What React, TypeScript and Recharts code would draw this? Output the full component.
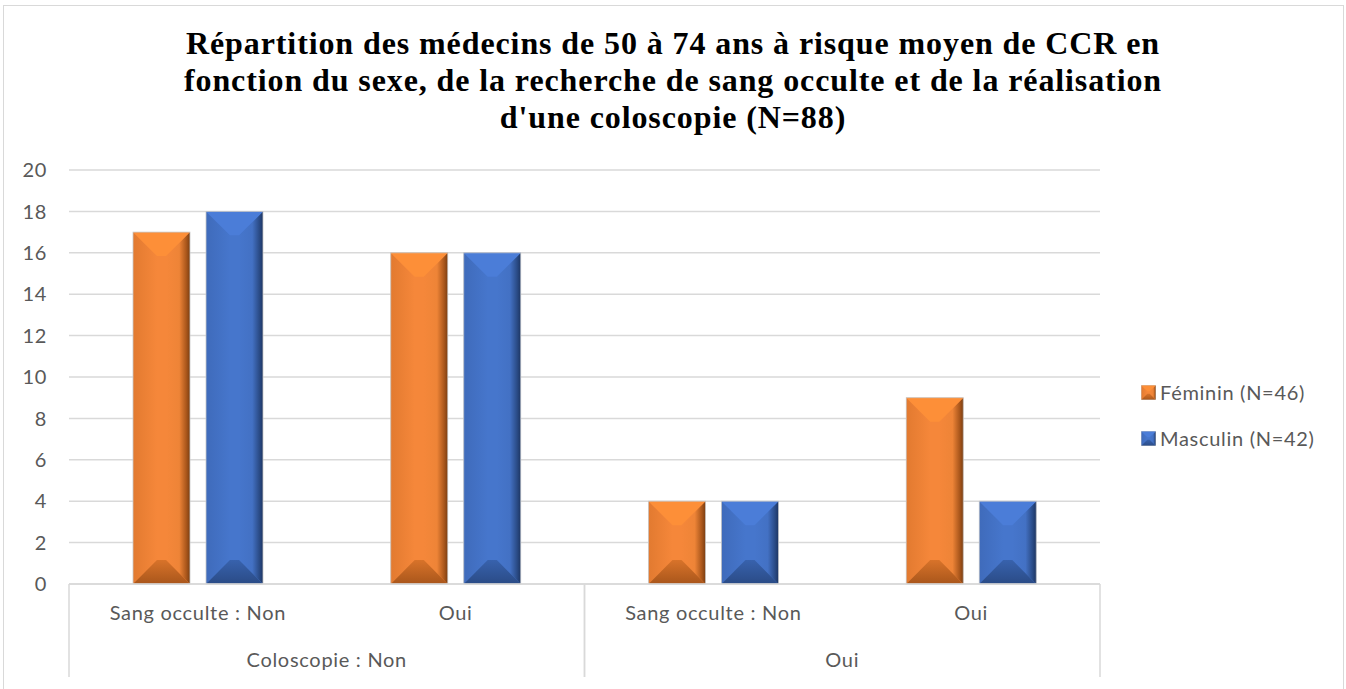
import React from 'react';
import { BarChart, Bar, XAxis, YAxis, CartesianGrid } from 'recharts';

const subCategories = ['Sang occulte : Non', 'Oui', 'Sang occulte : Non', 'Oui'];
const groupCategories = ['Coloscopie : Non', 'Coloscopie : Non', 'Oui', 'Oui'];
const femininValues = [17, 16, 4, 9];
const masculinValues = [18, 16, 4, 4];
const yTicks = [0, 2, 4, 6, 8, 10, 12, 14, 16, 18, 20];
const seriesNames = ['Féminin (N=46)', 'Masculin (N=42)'];
const titleLines = [
  'Répartition des médecins de 50 à 74 ans à risque moyen de CCR en',
  'fonction du sexe, de la recherche de sang occulte et de la réalisation',
  "d'une coloscopie (N=88)",
];

const data = subCategories.map((sub, i) => ({
  sub,
  group: groupCategories[i],
  f: femininValues[i],
  m: masculinValues[i],
}));

const W = 1346;
const H = 689;
const M_TOP = 170;
const M_RIGHT = 246;
const Y_W = 69;
const SUB_H = 52;
const GROUP_H = 53;
const SUB_MARGIN = 22;
const GROUP_MARGIN = 17;
const SEP_LEN = 93;
const TEXT = '#595959';
const GRID = '#d9d9d9';
const AXIS_FONT = 'Lato, "Noto Sans", sans-serif';
const AXIS_SIZE = 20;
const AXIS_LS = 0.7;
const SUB_AXIS_ID = 'axisA';
const GROUP_AXIS_ID = 'axisB';

type Pal = { face: string; top: string; leftEdge: string; rightMid: string; rightEdge: string; botIn: string; botOut: string };
const PALETTES: Record<string, Pal> = {
  f: {
    face: '#f5873a',
    top: '#fd8f38',
    leftEdge: '#e27a30',
    rightMid: '#ee8437',
    rightEdge: '#7a3e12',
    botIn: '#d8732a',
    botOut: '#a9561b',
  },
  m: {
    face: '#4676cc',
    top: '#4b7dd8',
    leftEdge: '#3f6bbb',
    rightMid: '#4371c4',
    rightEdge: '#1d3562',
    botIn: '#3862ad',
    botOut: '#2a4b86',
  },
};

function Bevel({ x, y, width, height, k }: { x: number; y: number; width: number; height: number; k: string }) {
  const p = PALETTES[k];
  const b = Math.min(width * 0.42, height / 2);
  const id = `g-${k}`;
  const xi1 = x + b;
  const xi2 = x + width - b;
  const yi1 = y + b;
  const yi2 = y + height - b;
  return (
    <g>
      <defs>
        <linearGradient id={`${id}-l`} x1="0" y1="0" x2="1" y2="0">
          <stop offset="0" stopColor={p.leftEdge} />
          <stop offset="1" stopColor={p.face} />
        </linearGradient>
        <linearGradient id={`${id}-r`} x1="0" y1="0" x2="1" y2="0">
          <stop offset="0" stopColor={p.face} />
          <stop offset="0.55" stopColor={p.rightMid} />
          <stop offset="0.85" stopColor={p.botOut} />
          <stop offset="1" stopColor={p.rightEdge} />
        </linearGradient>
        <linearGradient id={`${id}-b`} x1="0" y1="0" x2="0" y2="1">
          <stop offset="0" stopColor={p.botIn} />
          <stop offset="1" stopColor={p.botOut} />
        </linearGradient>
      </defs>
      <rect x={x} y={y} width={width} height={height} fill={p.face} />
      <polygon points={`${x},${y} ${xi1},${yi1} ${xi1},${yi2} ${x},${y + height}`} fill={`url(#${id}-l)`} />
      <polygon points={`${x + width},${y} ${xi2},${yi1} ${xi2},${yi2} ${x + width},${y + height}`} fill={`url(#${id}-r)`} />
      <polygon points={`${x},${y} ${x + width},${y} ${xi2},${yi1} ${xi1},${yi1}`} fill={p.top} />
      <polygon points={`${x},${y + height} ${x + width},${y + height} ${xi2},${yi2} ${xi1},${yi2}`} fill={`url(#${id}-b)`} />
      <rect x={x} y={y} width={width} height={height} fill="none" stroke="#c8c8c8" strokeWidth={0.8} />
    </g>
  );
}

const makeShape = (k: string) => (props: any) => {
  const { x, y, width, height } = props;
  if (!height || height <= 0) return <g />;
  return <Bevel x={x} y={y} width={width} height={height} k={k} />;
};

const SubTick = (props: any) => {
  const { x, y, payload, index } = props;
  const bandW = (W - Y_W - M_RIGHT) / subCategories.length;
  const half = payload && typeof payload.offset === 'number' && payload.offset > 0 ? payload.offset : bandW / 2;
  const axisY = y - SUB_MARGIN;
  const i = typeof index === 'number' ? index : payload.index;
  const g = groupCategories[i];
  const leftLine = i === 0 || groupCategories[i - 1] !== g;
  const rightLine = i === groupCategories.length - 1 || groupCategories[i + 1] !== g;
  return (
    <g>
      <text x={x} y={y} dy="0.71em" textAnchor="middle" fill={TEXT} fontSize={AXIS_SIZE} letterSpacing={AXIS_LS} fontFamily={AXIS_FONT}>
        {payload.value}
      </text>
      {leftLine && <line x1={x - half} x2={x - half} y1={axisY} y2={axisY + SEP_LEN} stroke={GRID} strokeWidth={1.5} />}
      {rightLine && <line x1={x + half} x2={x + half} y1={axisY} y2={axisY + SEP_LEN} stroke={GRID} strokeWidth={1.5} />}
    </g>
  );
};

const GroupTick = (props: any) => {
  const { x, y, payload } = props;
  return (
    <text x={x} y={y} dy="0.71em" textAnchor="middle" fill={TEXT} fontSize={AXIS_SIZE} letterSpacing={AXIS_LS} fontFamily={AXIS_FONT}>
      {payload.value}
    </text>
  );
};

const YTick = (props: any) => {
  const { x, y, payload } = props;
  return (
    <text x={x} y={y} dy="0.355em" textAnchor="end" fill={TEXT} fontSize={AXIS_SIZE} letterSpacing={AXIS_LS} fontFamily={AXIS_FONT}>
      {payload.value}
    </text>
  );
};

function LegendIcon({ k }: { k: string }) {
  return (
    <svg width={15} height={15} style={{ display: 'block' }}>
      <Bevel x={0} y={0} width={15} height={15} k={k} />
    </svg>
  );
}

export default function App() {
  const keys = ['f', 'm'];
  return (
    <div style={{ position: 'absolute', left: 0, top: 0, width: W, height: H, overflow: 'hidden', background: '#fff' }}>
      <div
        style={{
          position: 'absolute',
          left: 3,
          top: 5,
          width: 1341,
          height: 720,
          border: `1px solid ${GRID}`,
          boxSizing: 'border-box',
        }}
      />
      <div
        style={{
          position: 'absolute',
          left: 0,
          top: 25,
          width: W,
          textAlign: 'center',
          fontFamily: '"Liberation Serif", serif',
          fontWeight: 'bold',
          fontSize: 32,
          letterSpacing: 0.9,
          lineHeight: '37px',
          color: '#000',
        }}
      >
        {titleLines.map((t, i) => (
          <div key={i}>{t}</div>
        ))}
      </div>
      <div style={{ position: 'absolute', left: 0, top: 0 }}>
        <BarChart
          width={W}
          height={H}
          data={data}
          margin={{ top: M_TOP, right: M_RIGHT, left: 0, bottom: 0 }}
          barSize={57}
          barGap={16}
        >
          <CartesianGrid vertical={false} stroke={GRID} strokeWidth={1.5} xAxisId={SUB_AXIS_ID} />
          <XAxis
            xAxisId={SUB_AXIS_ID}
            dataKey="sub"
            height={SUB_H}
            tickSize={0}
            tickMargin={SUB_MARGIN}
            tickLine={false}
            axisLine={{ stroke: GRID, strokeWidth: 1.5 }}
            tick={<SubTick />}
            interval={0}
          />
          <XAxis
            xAxisId={GROUP_AXIS_ID}
            dataKey="group"
            allowDuplicatedCategory={false}
            height={GROUP_H}
            tickSize={0}
            tickMargin={GROUP_MARGIN}
            tickLine={false}
            axisLine={false}
            tick={<GroupTick />}
            interval={0}
          />
          <YAxis
            width={Y_W}
            domain={[0, 20]}
            ticks={yTicks}
            tickSize={0}
            tickMargin={22}
            axisLine={false}
            tickLine={false}
            tick={<YTick />}
            interval={0}
          />
          {keys.map((k, i) => (
            <Bar
              key={k}
              xAxisId={SUB_AXIS_ID}
              dataKey={k}
              name={seriesNames[i]}
              fill={PALETTES[k].face}
              shape={makeShape(k)}
              isAnimationActive={false}
            />
          ))}
        </BarChart>
      </div>
      <div style={{ position: 'absolute', left: 1141, top: 379, fontFamily: AXIS_FONT, fontSize: AXIS_SIZE, letterSpacing: AXIS_LS, color: TEXT }}>
        {keys.map((k, i) => (
          <div key={k} style={{ display: 'flex', alignItems: 'center', height: 26, marginBottom: i === 0 ? 20 : 0 }}>
            <LegendIcon k={k} />
            <span style={{ marginLeft: 4 }}>{seriesNames[i]}</span>
          </div>
        ))}
      </div>
    </div>
  );
}
